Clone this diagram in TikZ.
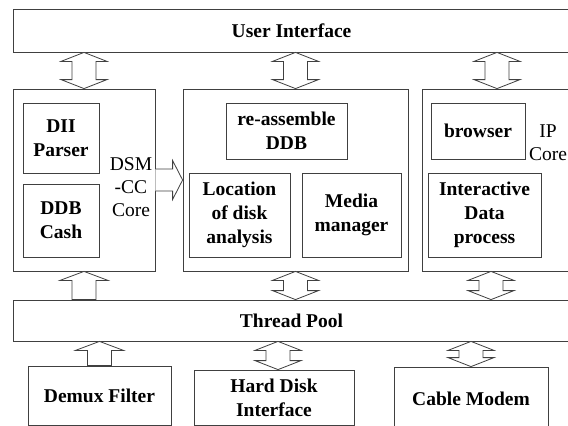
\documentclass[tikz,border=0pt]{standalone}
\usepackage{fontspec}
\setmainfont{Liberation Serif}
\usetikzlibrary{calc}

% block arrows: top point, bottom point (pixel units, y downwards)
\newcommand{\dblarr}[2]{\draw[blk] (#1) -- ++(-23,9) -- ++(11,0) -- ($(#2)+(-12,-9)$) -- ++(-11,0) -- (#2) -- ++(23,-9) -- ++(-11,0) -- ($(#1)+(12,9)$) -- ++(11,0) -- cycle;}
\newcommand{\uparr}[2]{\draw[blk] (#1) -- ++(-24,9) -- ++(12,0) -- ($(#2)+(-12,0)$) -- ($(#2)+(12,0)$) -- ($(#1)+(12,9)$) -- ++(12,0) -- cycle;}
\newcommand{\rtarr}[2]{\draw[blk] ($(#1)+(0,-11)$) -- ($(#2)+(-10,-11)$) -- ++(0,-8.5) -- (#2) -- ($(#2)+(-10,19.5)$) -- ++(0,-8.5) -- ($(#1)+(0,11)$);}

\begin{document}
\begin{tikzpicture}[x=1pt,y=-1pt]
        \tikzstyle{box} = [rectangle, draw=black!75, line width=0.8pt, inner sep=0pt, align=center, font=\fontsize{19.5}{24}\selectfont\bfseries]
        \tikzstyle{lbl} = [inner sep=0pt, align=center, font=\fontsize{19.5}{23}\selectfont]
        \tikzstyle{blk} = [draw=black!75, line width=0.8pt, fill=white]
        \useasboundingbox (0,0) rectangle (568,426);
        % layers
        \node (ui) [box, minimum width=557, minimum height=43] at (291.5,30.5) {User Interface};
        \node (tp) [box, minimum width=557, minimum height=41] at (291.5,320.5) {Thread Pool};
        \node (m1) [box, minimum width=142, minimum height=182] at (84,180) {};
        \node (m2) [box, minimum width=225, minimum height=182] at (295.5,180) {};
        \node (m3) [box, minimum width=150, minimum height=182] at (497,180) {};
        % DSM-CC core
        \node (dii) [box, minimum width=76, minimum height=70] at (61,138) {DII\\Parser};
        \node (ddb) [box, minimum width=76, minimum height=73] at (61,220.5) {DDB\\Cash};
        \node (dsm) [lbl] at (131,187) {DSM\\-CC\\Core};
        % middle module
        \node (reasm) [box, minimum width=121, minimum height=56] at (286.5,131) {re-assemble\\DDB};
        \node (loc) [box, minimum width=101, minimum height=84] at (239.5,215) {Location\\of disk\\analysis};
        \node (media) [box, minimum width=99, minimum height=84] at (351.5,215) {Media\\manager};
        % IP core
        \node (browser) [box, minimum width=94, minimum height=56] at (478,131) {browser};
        \node (ip) [lbl] at (548,143) {IP\\Core};
        \node (inter) [box, minimum width=113, minimum height=84] at (484.5,215) {Interactive\\Data\\process};
        % devices
        \node (demux) [box, minimum width=143, minimum height=59] at (99.5,395.5) {Demux Filter};
        \node (hdd) [box, minimum width=160, minimum height=55] at (274,397.5) {Hard Disk\\Interface};
        \node (cable) [box, minimum width=154, minimum height=63] at (471,398.5) {Cable Modem};
        % arrows
        \coordinate (u1) at (m1.north |- ui.south);
        \coordinate (u2) at (m2.north |- ui.south);
        \coordinate (u3) at (m3.north |- ui.south);
        \dblarr{u1}{m1.north}
        \dblarr{u2}{m2.north}
        \dblarr{u3}{m3.north}
        \coordinate (l1) at (m1.south |- tp.north);
        \coordinate (l2) at (m2.south |- tp.north);
        \coordinate (l3t) at ($(m3.south)+(-6,0)$);
        \coordinate (l3b) at (l3t |- tp.north);
        \uparr{m1.south}{l1}
        \dblarr{m2.south}{l2}
        \dblarr{l3t}{l3b}
        \coordinate (b1) at (demux.north |- tp.south);
        \coordinate (b2b) at ($(hdd.north)+(4,0)$);
        \coordinate (b2t) at (b2b |- tp.south);
        \coordinate (b3) at (cable.north |- tp.south);
        \uparr{b1}{demux.north}
        \dblarr{b2t}{b2b}
        \dblarr{b3}{cable.north}
        \rtarr{m1.east}{m2.west}
\end{tikzpicture}
\end{document}
